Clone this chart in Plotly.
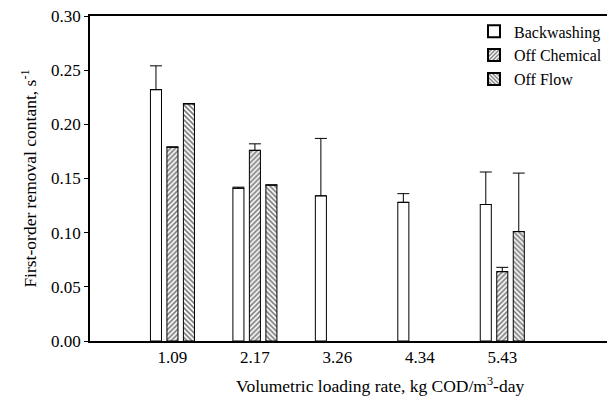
import plotly.graph_objects as go

categories = ["1.09", "2.17", "3.26", "4.34", "5.43"]
backwashing = [0.232, 0.141, 0.134, 0.128, 0.126]
backwashing_err = [0.022, 0.001, 0.053, 0.008, 0.030]
off_chemical = [0.179, 0.176, None, None, 0.064]
off_chemical_err = [0.0, 0.006, 0.0, 0.0, 0.004]
off_flow = [0.219, 0.144, None, None, 0.101]
off_flow_err = [0.0, 0.0, 0.0, 0.0, 0.054]

FONT = "Liberation Serif, Times New Roman, serif"

def err(arr):
    return dict(type="data", array=arr, symmetric=False, arrayminus=[0] * len(arr),
                color="black", thickness=1, width=6)

fig = go.Figure()
fig.add_trace(go.Bar(
    name="Backwashing", x=categories, y=backwashing, error_y=err(backwashing_err),
    marker=dict(color="white", line=dict(color="black", width=1)),
))
fig.add_trace(go.Bar(
    name="Off Chemical", x=categories, y=off_chemical, error_y=err(off_chemical_err),
    marker=dict(color="white", line=dict(color="black", width=1),
                pattern=dict(shape="/", size=3.5, solidity=0.5, fgcolor="black", bgcolor="white")),
))
fig.add_trace(go.Bar(
    name="Off Flow", x=categories, y=off_flow, error_y=err(off_flow_err),
    marker=dict(color="white", line=dict(color="black", width=1),
                pattern=dict(shape="\\", size=3.5, solidity=0.5, fgcolor="black", bgcolor="white")),
))

fig.update_layout(
    width=610, height=400,
    margin=dict(l=90, r=3, t=16, b=59, autoexpand=False),
    paper_bgcolor="white", plot_bgcolor="white",
    barmode="group", bargap=0.4, bargroupgap=0.33,
    font=dict(family=FONT, size=17, color="black"),
    legend=dict(x=1.0, y=1.005, xanchor="right", yanchor="top",
                bgcolor="rgba(0,0,0,0)", font=dict(family=FONT, size=16),
                tracegroupgap=0, itemsizing="constant"),
    showlegend=True,
    annotations=[dict(
        text="Volumetric loading rate, kg COD/m<sup>3</sup>-day",
        xref="paper", yref="paper", x=0.561, y=-0.135,
        xanchor="center", yanchor="middle", showarrow=False,
        font=dict(family=FONT, size=17.5, color="black"),
    )],
)
fig.update_xaxes(
    type="category", range=[-1, 5.27], automargin=False,
    showline=True, linecolor="black", linewidth=1.5, mirror=True,
    ticks="", showgrid=False, zeroline=False,
    tickfont=dict(family=FONT, size=17),
)
fig.update_yaxes(
    range=[0, 0.30], tickvals=[0, 0.05, 0.10, 0.15, 0.20, 0.25, 0.30],
    tickformat=".2f", automargin=False,
    showline=True, linecolor="black", linewidth=1.5,
    ticks="outside", ticklen=4, tickcolor="black",
    showgrid=False, zeroline=False,
    tickfont=dict(family=FONT, size=17),
    title=dict(text="First-order removal contant, s<sup>-1</sup>",
               font=dict(family=FONT, size=17.5), standoff=10),
)

fig.write_html("out.html")
